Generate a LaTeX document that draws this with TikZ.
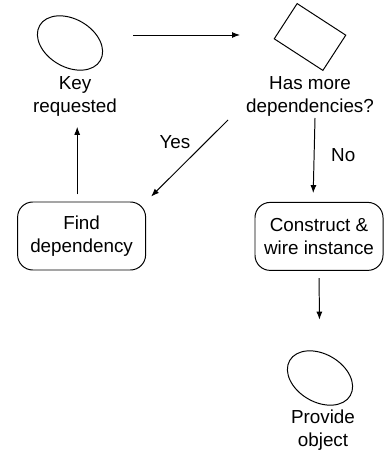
\documentclass[tikz,border=0pt]{standalone}
\usepackage{fontspec}
\setmainfont{Liberation Sans}
\usetikzlibrary{shapes.geometric,arrows.meta,calc}

\begin{document}
\begin{tikzpicture}[line width=0.7pt, >={Latex[length=2mm,width=1.5mm]},
    font=\fontsize{13.4}{16.3}\selectfont,
    oval/.style = {draw, ellipse, rotate=-30, minimum width=1.75cm, minimum height=1.2cm},
    tilted/.style = {draw, rectangle, rotate=-33, minimum width=1.45cm, minimum height=1.05cm},
    box/.style = {draw, rounded corners=0.38cm, minimum width=3.2cm, minimum height=1.7cm, align=center},
    caption/.style = {align=center}]
\useasboundingbox (0,0) rectangle (9.65,-11.3);
    \node[oval] (key) at (1.75,-1.075) {};
    \node[caption] (keytext) at (1.875,-2.41) {Key\\requested};
    \node[tilted] (more) at (7.75,-0.925) {};
    \node[caption] (moretext) at (7.75,-2.41) {Has more\\dependencies?};
    \node[box] (find) at (2.04,-5.9) {Find\\dependency};
    \node[box] (construct) at (7.975,-5.91) {Construct \&\\wire instance};
    \node[oval] (provide) at (8.0,-9.45) {};
    \node[caption] (providetext) at (8.075,-10.75) {Provide\\object};

% arrows
\draw[->] ($(key)+(1.575,0.2)$) -- ($(more)+(-1.75,0.05)$);
\draw[->] ($(moretext)+(-2.05,-0.59)$) -- ($(find.north east)+(0.125,0.125)$)
    node[midway, above left, xshift=0.15cm, yshift=0.1cm] {Yes};
\draw[->, shorten >=0.22cm] ([xshift=1.25mm, yshift=-0.54cm]moretext.center) -- ([xshift=-1.5mm]construct.north)
    node[midway, right, xshift=0.3cm, yshift=0.12cm] {No};
\draw[->, shorten <=0.18cm] ([xshift=-1.1mm]find.north) -- ([xshift=-1.1mm, yshift=-0.76cm]find.north |- keytext.center);
\draw[->, shorten <=0.18cm, shorten >=0.8cm] (construct.south) -- (provide);
\end{tikzpicture}
\end{document}
